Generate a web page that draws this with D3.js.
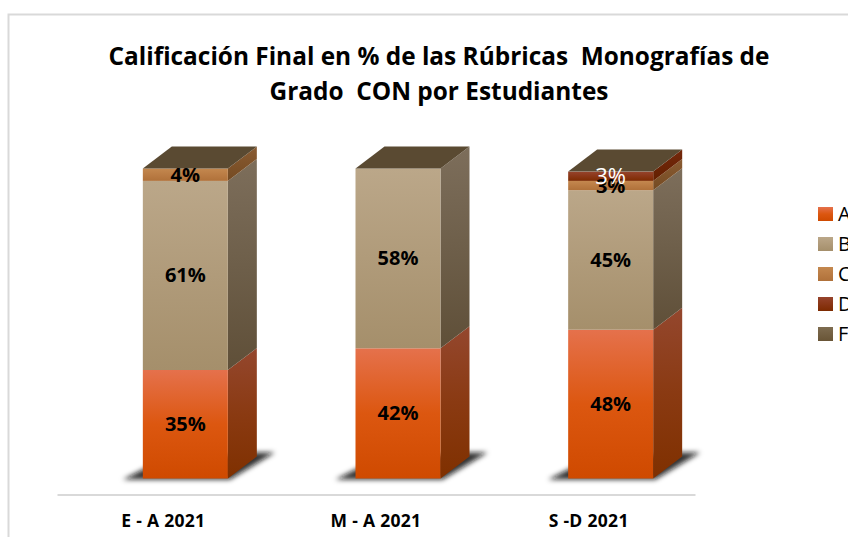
<!DOCTYPE html>
<html>
<head>
<meta charset="utf-8">
<script src="https://cdn.jsdelivr.net/npm/d3@7"></script>
<style>
  html, body { margin: 0; padding: 0; background: #fff; overflow: hidden; }
  svg { display: block; }
  text { font-family: "Open Sans", Lato, sans-serif; }
</style>
</head>
<body>
<svg class="chart" width="848" height="537"></svg>
<script>
// stacked 3d columns, values in %
var periods = ["E - A 2021", "M - A 2021", "S -D 2021"];
var keys = ["A", "B", "C", "D", "F"];
var valuesA = [35, 42, 48];
var valuesB = [61, 58, 45];
var valuesC = [4, 0, 3];
var valuesD = [0, 0, 3];
var valuesF = [0, 0, 0];
var titleLines = ["Calificación Final en % de las Rúbricas  Monografías de", "Grado  CON por Estudiantes"];

var seriesValues = { A: valuesA, B: valuesB, C: valuesC, D: valuesD, F: valuesF };

// front gradient and side gradient per series, evenly spaced stops
var colors = {
  A: { front: ["#e5714c", "#dc5710", "#cf4a00"], side: ["#94472e", "#8a3a12", "#7f3000"] },
  B: { front: ["#bba789", "#b09b7a", "#a58f6b"], side: ["#7d6e5b", "#6e5f4a", "#5f4f38"] },
  C: { front: ["#c4884f", "#ba7c44", "#b0713a"], side: ["#8a5c33", "#7f532a", "#744a22"] },
  D: { front: ["#96432c", "#8a3616", "#7d2a00"], side: ["#74280c", "#6b2406", "#632000"] },
  F: { front: ["#7e6c50", "#736043", "#695536"], side: ["#5a4a32", "#5a4a32", "#5a4a32"] }
};

var svg = d3.select(".chart"),
    width = +svg.attr("width"),
    height = +svg.attr("height");

var depthX = 29, depthY = -22, barW = 85;

var x = d3.scaleBand().domain(periods).range([57, 695]);
var y = d3.scaleLinear().domain([0, 100]).range([478.5, 168.5]);

var rows = periods.map(function (p, i) {
  var row = { period: p };
  keys.forEach(function (k) { row[k] = seriesValues[k][i]; });
  return row;
});
var stacked = d3.stack().keys(keys)(rows);

var defs = svg.append("defs");
keys.forEach(function (k) {
  ["front", "side"].forEach(function (part) {
    var g = defs.append("linearGradient")
      .attr("id", part + k)
      .attr("x1", 0).attr("y1", 0).attr("x2", 0).attr("y2", 1);
    colors[k][part].forEach(function (c, i) {
      g.append("stop").attr("offset", (i * 50) + "%").attr("stop-color", c);
    });
  });
});
defs.append("filter").attr("id", "blur")
  .attr("x", "-20%").attr("y", "-40%").attr("width", "140%").attr("height", "180%")
  .append("feGaussianBlur").attr("stdDeviation", 2.5);

// chart frame, runs off the page on the right and bottom
svg.append("path")
  .attr("d", "M8.5," + (height + 2) + "V14.5H" + (width + 2))
  .attr("fill", "none")
  .attr("stroke", "#d9d9d9")
  .attr("stroke-width", 2);

var title = svg.append("text")
  .attr("text-anchor", "middle")
  .attr("font-size", 24.4)
  .attr("font-weight", 700)
  .attr("fill", "#000")
  .style("white-space", "pre");
titleLines.forEach(function (t, i) {
  title.append("tspan").attr("x", 439).attr("y", 65 + i * 35).text(t);
});

function barLeft(p) { return x(p) + x.bandwidth() / 2 + 22 - barW / 2; }
function pts(a) { return a.map(function (d) { return d.join(","); }).join(" "); }

// floor shadow under each column
svg.append("g").selectAll("polygon")
  .data(periods)
  .enter().append("polygon")
  .attr("filter", "url(#blur)")
  .attr("fill", "#111")
  .attr("fill-opacity", 0.85)
  .attr("points", function (p) {
    var l = barLeft(p), r = l + barW, b = y(0);
    return pts([[l - 20, b + 1], [r + 2, b + 1], [r + 47, b - 26], [r + 20, b - 26], [l + 10, b - 14]]);
  });

var bars = svg.append("g");

// side faces and front faces, bottom series first
stacked.forEach(function (s) {
  var k = s.key;
  var g = bars.append("g").attr("class", "series-" + k);
  g.selectAll(".side")
    .data(s.filter(function (d) { return d[1] > d[0]; }))
    .enter().append("polygon")
    .attr("class", "side")
    .attr("fill", "url(#side" + k + ")")
    .attr("points", function (d) {
      var r = barLeft(d.data.period) + barW, y0 = y(d[0]), y1 = y(d[1]);
      return pts([[r, y0], [r + depthX, y0 + depthY], [r + depthX, y1 + depthY], [r, y1]]);
    });
  g.selectAll(".front")
    .data(s.filter(function (d) { return d[1] > d[0]; }))
    .enter().append("rect")
    .attr("class", "front")
    .attr("fill", "url(#front" + k + ")")
    .attr("x", function (d) { return barLeft(d.data.period); })
    .attr("y", function (d) { return y(d[1]); })
    .attr("width", barW)
    .attr("height", function (d) { return y(d[0]) - y(d[1]); });
});

// top face takes the colour of the last (empty) series
bars.append("g").selectAll("polygon")
  .data(stacked[stacked.length - 1])
  .enter().append("polygon")
  .attr("fill", colors.F.side[0])
  .attr("points", function (d) {
    var l = barLeft(d.data.period), t = y(d[1]);
    return pts([[l, t], [l + depthX, t + depthY], [l + barW + depthX, t + depthY], [l + barW, t]]);
  });

// data labels
stacked.forEach(function (s) {
  svg.append("g").selectAll("text")
    .data(s.filter(function (d) { return d[1] > d[0]; }))
    .enter().append("text")
    .attr("text-anchor", "middle")
    .attr("x", function (d) { return barLeft(d.data.period) + barW / 2; })
    .attr("y", function (d) { return (y(d[0]) + y(d[1])) / 2; })
    .attr("dy", "0.35em")
    .attr("font-size", s.key == "D" ? 22 : 20)
    .attr("font-weight", s.key == "D" ? 400 : 700)
    .attr("fill", s.key == "D" ? "#fff" : "#000")
    .text(function (d) { return (d[1] - d[0]) + "%"; });
});

// x axis
var axis = svg.append("g")
  .attr("transform", "translate(0,494.5)")
  .call(d3.axisBottom(x).tickSize(0).tickPadding(20));
axis.select(".domain").attr("stroke", "#d9d9d9").attr("stroke-width", 2);
axis.selectAll("text")
  .attr("font-family", "Open Sans")
  .attr("font-size", 17.5)
  .attr("font-weight", 700)
  .attr("letter-spacing", 0.3)
  .attr("fill", "#000");

// legend
var legendY = d3.scalePoint().domain(keys).range([207, 327]);
var legend = svg.append("g").selectAll("g")
  .data(keys)
  .enter().append("g")
  .attr("transform", function (k) { return "translate(818," + legendY(k) + ")"; });
legend.append("rect")
  .attr("width", 15).attr("height", 14)
  .attr("fill", function (k) { return "url(#front" + k + ")"; });
legend.append("text")
  .attr("x", 20).attr("y", 14)
  .attr("font-size", 20)
  .attr("fill", "#000")
  .text(function (k) { return k; });
</script>
</body>
</html>
